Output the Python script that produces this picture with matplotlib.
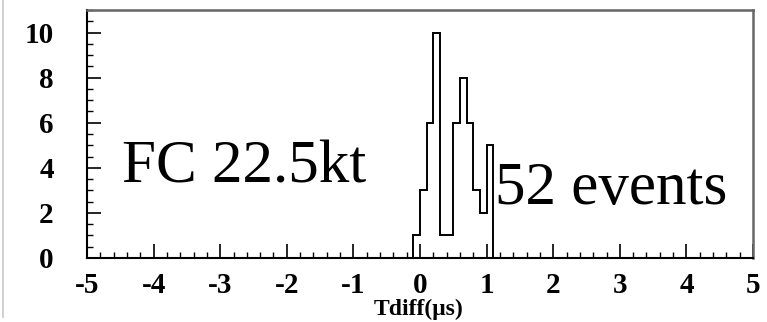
import numpy as np
import matplotlib
matplotlib.use('Agg')
import matplotlib.pyplot as plt
from matplotlib.ticker import MultipleLocator
from matplotlib.lines import Line2D

# time difference histogram, 0.1 us bins
bin_edges = [-0.1, 0.0, 0.1, 0.2, 0.3, 0.4, 0.5, 0.6, 0.7, 0.8, 0.9, 1.0, 1.1]
counts = [1, 3, 6, 10, 1, 1, 6, 8, 6, 3, 2, 5]

x_ticks = [-5, -4, -3, -2, -1, 0, 1, 2, 3, 4, 5]
y_ticks = [0, 2, 4, 6, 8, 10]

plt.rcParams['font.family'] = ['Liberation Serif', 'DejaVu Serif']
plt.rcParams['axes.unicode_minus'] = False

fig = plt.figure(figsize=(7.67, 3.22), dpi=100)
ax = fig.add_axes([0.1134, 0.1988, 0.8684, 0.7702])

ax.stairs(counts, bin_edges, color='black', linewidth=1.4, baseline=0)

ax.set_xlim(-5, 5)
ax.set_ylim(0, 11)
ax.set_xticks(x_ticks)
ax.set_yticks(y_ticks)
ax.xaxis.set_minor_locator(MultipleLocator(0.2))
ax.yaxis.set_minor_locator(MultipleLocator(0.5))

ax.tick_params(axis='both', which='major', direction='in', length=10, width=1.2,
               top=False, right=False, labelsize=21)
ax.tick_params(axis='both', which='minor', direction='in', length=4.5, width=1.0,
               top=False, right=False)
ax.tick_params(axis='y', which='major', pad=24)
ax.tick_params(axis='x', which='major', pad=10)
for lab in ax.get_xticklabels() + ax.get_yticklabels():
    lab.set_fontweight('bold')

for side in ['left', 'bottom']:
    ax.spines[side].set_color('black')
    ax.spines[side].set_linewidth(1.5)
for side in ['top', 'right']:
    ax.spines[side].set_color('#666666')
    ax.spines[side].set_linewidth(1.8)

# axis title sits just under the tick labels, centred on the axis
fig.text(0.546, 0.040, 'Tdiff(\u03bcs)', fontsize=17, fontweight='bold',
         ha='center', va='center')

ax.text(-4.48, 3.35, 'FC 22.5kt', fontsize=44, ha='left', va='baseline')
ax.text(1.12, 2.4, '52 events', fontsize=44, ha='left', va='baseline')

fig.add_artist(Line2D([0.0043, 0.0043], [0.015, 1.0], transform=fig.transFigure,
                      color='#c8c8c8', linewidth=1.2))

fig.savefig('out.png', dpi=100)
